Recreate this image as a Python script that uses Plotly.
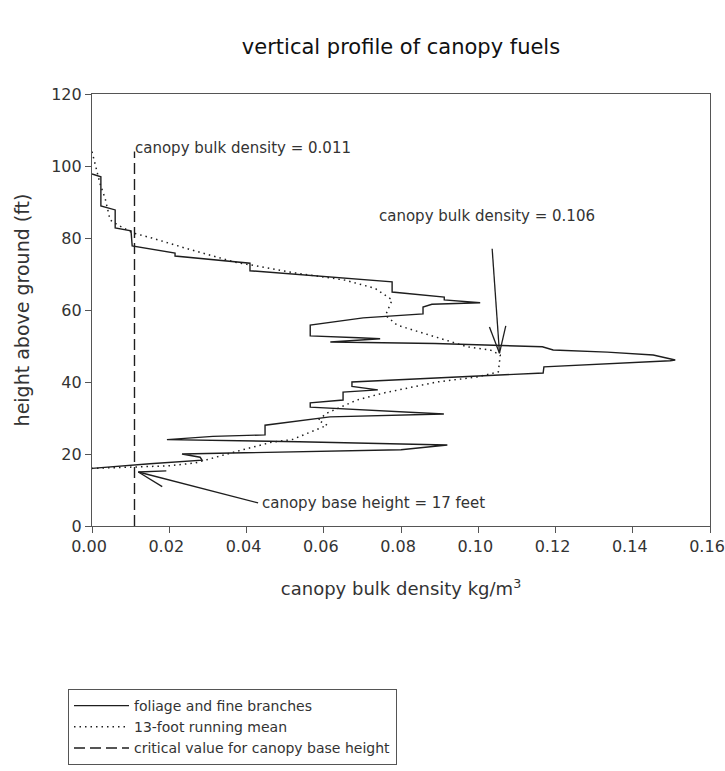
import math
import plotly.graph_objects as go

# ---- data ----
# solid profile: foliage and fine branches (vertices of the traced step line)
solid_density = [0.0000, 0.0023, 0.0023, 0.0060, 0.0060, 0.0101, 0.0104, 0.0215, 0.0215,
                 0.0409, 0.0409, 0.0777, 0.0777, 0.0912, 0.0912, 0.1005, 0.0880, 0.0857,
                 0.0857, 0.0702, 0.0565, 0.0565, 0.0690, 0.0746, 0.0617, 0.0888, 0.1166,
                 0.1194, 0.1334, 0.1453, 0.1510, 0.1497, 0.1170, 0.1168, 0.0945, 0.0673,
                 0.0673, 0.0740, 0.0650, 0.0650, 0.0565, 0.0565, 0.0911, 0.0616, 0.0448,
                 0.0448, 0.0313, 0.0194, 0.0536, 0.0920, 0.0800, 0.0233, 0.0280, 0.0285,
                 0.0150, 0.0000]
solid_height = [97.8, 97.0, 88.9, 87.8, 82.8, 82.0, 77.8, 75.8, 75.0,
                73.0, 70.9, 67.8, 65.0, 63.6, 62.8, 62.0, 61.6, 60.8,
                58.9, 57.8, 55.8, 52.8, 52.3, 52.0, 51.1, 50.7, 49.8,
                48.9, 48.3, 47.5, 46.1, 45.9, 44.2, 42.5, 41.4, 40.0,
                38.8, 37.8, 37.2, 35.0, 34.2, 33.0, 31.1, 30.3, 28.0,
                25.3, 24.9, 24.0, 23.4, 22.5, 21.2, 20.0, 19.1, 18.3,
                17.3, 16.0]

# 13-foot running mean
mean_density = [0.0000, 0.0021, 0.0034, 0.0047, 0.0067, 0.0106, 0.0155, 0.0241, 0.0370,
                0.0526, 0.0655, 0.0733, 0.0777, 0.0760, 0.0790, 0.0890, 0.0971, 0.1031,
                0.1057, 0.1052, 0.0997, 0.0893, 0.0753, 0.0686, 0.0609, 0.0585, 0.0609,
                0.0518, 0.0466, 0.0370, 0.0267, 0.0197, 0.0111, 0.0034, 0.0000]
mean_height = [104.0, 95.0, 91.0, 85.0, 83.6, 81.4, 80.0, 77.2, 73.3,
               70.3, 68.3, 66.0, 62.8, 58.5, 55.8, 52.5, 49.8, 48.9,
               47.5, 42.8, 41.4, 40.0, 36.9, 35.0, 31.4, 29.4, 28.0,
               24.0, 23.3, 20.6, 17.5, 16.7, 16.4, 16.0, 16.0]

# critical value for canopy base height
critical_density = [0.011, 0.011]
critical_height = [0.0, 104.0]

# tick values / labels
x_ticks = [0.00, 0.02, 0.04, 0.06, 0.08, 0.10, 0.12, 0.14, 0.16]
x_tick_labels = ["0.00", "0.02", "0.04", "0.06", "0.08", "0.10", "0.12", "0.14", "0.16"]
y_ticks = [0, 20, 40, 60, 80, 100, 120]

# annotation texts and anchor points
label_texts = ["canopy bulk density = 0.011", "canopy bulk density = 0.106",
               "canopy base height = 17 feet"]
label_x = [0.0106, 0.0738, 0.0435]
label_y = [105.0, 86.1, 6.4]

# arrows: tail -> tip
arrow_tail_x = [0.1036, 0.0430]
arrow_tail_y = [77.0, 6.4]
arrow_tip_x = [0.1055, 0.0120]
arrow_tip_y = [48.0, 15.0]

x_range = [0, 0.16]
y_range = [0, 120]

# ---- layout geometry (page margin removed by post_script) ----
W, H = 725, 771
ML, MT = 92, 94
MR = W - 710
MB = H - 526
PW, PH = W - ML - MR, H - MT - MB
sx = PW / (x_range[1] - x_range[0])
sy = PH / (y_range[1] - y_range[0])

INK = "#1e1e1e"
TXT = "#333333"
FONT = "DejaVu Sans, Verdana, sans-serif"

fig = go.Figure()

fig.add_trace(go.Scatter(x=solid_density, y=solid_height, mode="lines",
                         name="foliage and fine branches",
                         line=dict(color=INK, width=1.4)))
fig.add_trace(go.Scatter(x=mean_density, y=mean_height, mode="lines",
                         name="13-foot running mean",
                         line=dict(color=INK, width=1.5, dash="1.5px,4px")))
fig.add_trace(go.Scatter(x=critical_density, y=critical_height, mode="lines",
                         name="critical value for canopy base height",
                         line=dict(color=INK, width=1.4, dash="11px,5px")))

# arrows with open V heads (computed in pixel space)
head_len = 28.0
half_ang = math.radians(17)
for tx0, ty0, hx, hy in zip(arrow_tail_x, arrow_tail_y, arrow_tip_x, arrow_tip_y):
    dx = (tx0 - hx) * sx
    dy = (ty0 - hy) * sy
    ang = math.atan2(dy, dx)
    xs = [tx0, hx]
    ys = [ty0, hy]
    for s in (-1, 1):
        a = ang + s * half_ang
        ex = hx + head_len * math.cos(a) / sx
        ey = hy + head_len * math.sin(a) / sy
        xs += [None, hx, ex]
        ys += [None, hy, ey]
    fig.add_trace(go.Scatter(x=xs, y=ys, mode="lines", showlegend=False,
                             hoverinfo="skip", line=dict(color=INK, width=1.3)))

for t, x, y in zip(label_texts, label_x, label_y):
    fig.add_annotation(x=x, y=y, xref="x", yref="y", text=t, showarrow=False,
                       xanchor="left", yanchor="middle",
                       font=dict(family=FONT, size=15, color=TXT))

axis_common = dict(showline=True, linecolor="#555", linewidth=1.2, mirror=True,
                   ticks="outside", ticklen=6, tickcolor="#555", tickwidth=1.2,
                   showgrid=False, zeroline=False, ticklabeloverflow="allow",
                   tickfont=dict(family=FONT, size=16, color=TXT))

fig.update_layout(
    width=W, height=H,
    margin=dict(l=ML, r=MR, t=MT, b=MB, autoexpand=False),
    paper_bgcolor="white", plot_bgcolor="white",
    title=dict(text="vertical profile of canopy fuels", x=0.5, xref="paper",
               xanchor="center", y=1 - 47 / H, yanchor="middle",
               font=dict(family=FONT, size=21, color="#111")),
    xaxis=dict(range=x_range, tickmode="array", tickvals=x_ticks, ticktext=x_tick_labels,
               ticklabelshift=-3,
               title=dict(text="canopy bulk density kg/m<sup>3</sup>", standoff=27,
                          font=dict(family=FONT, size=18, color=TXT)),
               **axis_common),
    yaxis=dict(range=y_range, tickmode="array", tickvals=y_ticks,
               title=dict(text="height above ground (ft)", standoff=16,
                          font=dict(family=FONT, size=19, color=TXT)),
               **axis_common),
    legend=dict(x=(68 - ML) / PW, y=(526 - 689) / PH, xanchor="left", yanchor="top",
                bordercolor="#555", borderwidth=1, bgcolor="white",
                font=dict(family=FONT, size=14, color=TXT),
                tracegroupgap=0, itemwidth=55),
    showlegend=True,
)

fig.write_html("out.html", config={"displayModeBar": False},
               post_script="document.body.style.margin='0';document.body.style.overflow='hidden';")
